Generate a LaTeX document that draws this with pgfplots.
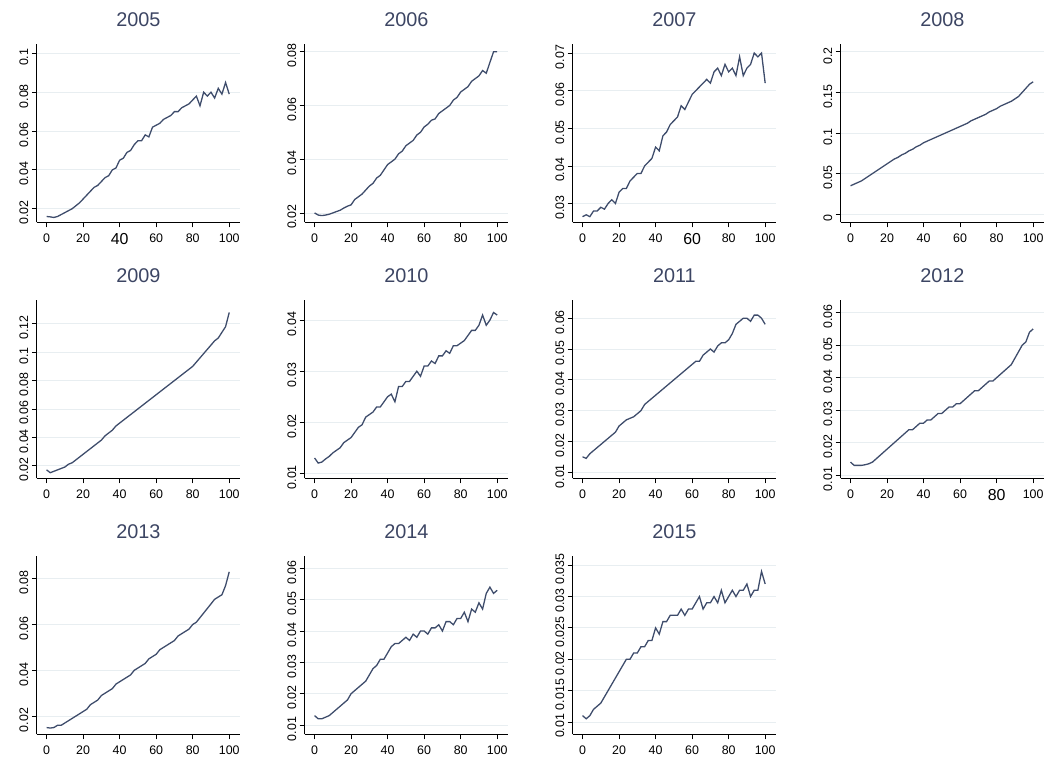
\documentclass[border=0pt]{standalone}
\usepackage{pgfplots}
\pgfplotsset{compat=1.18}
\usepgfplotslibrary{groupplots}
\usepackage{fontspec}
\setmainfont{Liberation Sans}
\definecolor{ln}{HTML}{3E4C6B}
\definecolor{tt}{HTML}{3C4563}
\definecolor{gr}{HTML}{E8EEF1}
\pgfplotsset{
 panel/.style={scale only axis, width=205pt, height=180pt,
  axis x line=bottom, axis y line=left, axis line style={-, black, line width=0.8pt},
  xmin=-5.4, xmax=106, xtick={0,20,40,60,80,100},
  tick align=outside, major tick length=5pt, tick style={black, line width=0.8pt},
  ymajorgrids, grid style={gr, line width=0.8pt},
  every tick label/.append style={font=\fontsize{12.5}{14}\selectfont},
  yticklabel style={rotate=90, anchor=south, xshift=-4pt},
  xticklabel style={yshift=-3pt},
  /pgf/number format/assume math mode=true,
  /pgf/number format/fixed, /pgf/number format/precision=3,
  scaled y ticks=false,
  title style={font=\fontsize{20}{22}\selectfont, text=tt, yshift=8pt},
  every axis plot post/.append style={ln, line width=1.3pt, mark=none}}
}
\newcommand{\bignum}[1]{{\fontsize{16}{16}\selectfont #1}}
\begin{document}
\begin{tikzpicture}
\begin{groupplot}[group style={group size=4 by 3, horizontal sep=65pt, vertical sep=78pt}, panel]
\nextgroupplot[title=2005, ymin=0.013, ymax=0.105, ytick={0.02,0.04,0.06,0.08,0.1}, xticklabels={0,20,\bignum{40},60,80,100}]
\addplot coordinates {(0,.016)(2,.0158)(4,.0155)(6,.016)(8,.017)(10,.018)(12,.019)(14,.020)(16,.0215)(18,.023)(20,.025)(22,.027)(24,.029)(26,.031)(28,.032)(30,.034)(32,.036)(34,.037)(36,.040)(38,.041)(40,.045)(42,.046)(44,.049)(46,.050)(48,.053)(50,.055)(52,.055)(54,.058)(56,.057)(58,.062)(60,.063)(62,.064)(64,.066)(66,.067)(68,.068)(70,.070)(72,.070)(74,.072)(76,.073)(78,.074)(80,.076)(82,.078)(84,.073)(86,.080)(88,.078)(90,.080)(92,.077)(94,.082)(96,.079)(98,.085)(100,.079)};
\nextgroupplot[title=2006, ymin=0.0165, ymax=0.083, ytick={0.02,0.04,0.06,0.08}]
\addplot coordinates {(0,.020)(2,.0192)(4,.0190)(6,.0192)(8,.0195)(10,.020)(12,.0205)(14,.021)(16,.0218)(18,.0225)(20,.023)(22,.025)(24,.026)(26,.027)(28,.0285)(30,.030)(32,.031)(34,.033)(36,.034)(38,.036)(40,.038)(42,.039)(44,.040)(46,.042)(48,.043)(50,.045)(52,.046)(54,.047)(56,.049)(58,.050)(60,.052)(62,.053)(64,.0545)(66,.055)(68,.057)(70,.058)(72,.059)(74,.060)(76,.062)(78,.063)(80,.065)(82,.066)(84,.067)(86,.069)(88,.070)(90,.071)(92,.073)(94,.072)(96,.076)(98,.080)(100,.080)};
\nextgroupplot[title=2007, ymin=0.025, ymax=0.0725, ytick={0.03,0.04,0.05,0.06,0.07}, xticklabels={0,20,40,\bignum{60},80,100}]
\addplot coordinates {(0,.0265)(2,.027)(4,.0265)(6,.028)(8,.028)(10,.029)(12,.0285)(14,.030)(16,.031)(18,.030)(20,.033)(22,.034)(24,.034)(26,.036)(28,.037)(30,.038)(32,.038)(34,.040)(36,.041)(38,.042)(40,.045)(42,.044)(44,.048)(46,.049)(48,.051)(50,.052)(52,.053)(54,.056)(56,.055)(58,.057)(60,.059)(62,.060)(64,.061)(66,.062)(68,.063)(70,.062)(72,.065)(74,.066)(76,.064)(78,.067)(80,.065)(82,.066)(84,.064)(86,.069)(88,.064)(90,.066)(92,.067)(94,.070)(96,.069)(98,.070)(100,.062)};
\nextgroupplot[title=2008, ymin=-0.01, ymax=0.21, ytick={0,0.05,0.1,0.15,0.2}]
\addplot coordinates {(0,.035)(2,.037)(4,.039)(6,.041)(8,.044)(10,.047)(12,.050)(14,.053)(16,.056)(18,.059)(20,.062)(22,.065)(24,.068)(26,.070)(28,.073)(30,.075)(32,.078)(34,.080)(36,.083)(38,.085)(40,.088)(42,.090)(44,.092)(46,.094)(48,.096)(50,.098)(52,.100)(54,.102)(56,.104)(58,.106)(60,.108)(62,.110)(64,.112)(66,.115)(68,.117)(70,.119)(72,.121)(74,.123)(76,.126)(78,.128)(80,.130)(82,.133)(84,.135)(86,.137)(88,.139)(90,.142)(92,.145)(94,.150)(96,.155)(98,.160)(100,.163)};
\nextgroupplot[title=2009, ymin=0.011, ymax=0.137, ytick={0.02,0.04,0.06,0.08,0.1,0.12}]
\addplot coordinates {(0,.017)(2,.015)(4,.016)(6,.017)(8,.018)(10,.019)(12,.021)(14,.022)(16,.024)(18,.026)(20,.028)(22,.030)(24,.032)(26,.034)(28,.036)(30,.038)(32,.041)(34,.043)(36,.045)(38,.048)(40,.050)(42,.052)(44,.054)(46,.056)(48,.058)(50,.060)(52,.062)(54,.064)(56,.066)(58,.068)(60,.070)(62,.072)(64,.074)(66,.076)(68,.078)(70,.080)(72,.082)(74,.084)(76,.086)(78,.088)(80,.090)(82,.093)(84,.096)(86,.099)(88,.102)(90,.105)(92,.108)(94,.110)(96,.114)(98,.118)(100,.128)};
\nextgroupplot[title=2010, ymin=0.009, ymax=0.044, ytick={0.01,0.02,0.03,0.04}]
\addplot coordinates {(0,.013)(2,.012)(4,.0122)(6,.0128)(8,.0133)(10,.014)(12,.0145)(14,.015)(16,.016)(18,.0165)(20,.017)(22,.018)(24,.019)(26,.0195)(28,.021)(30,.0215)(32,.022)(34,.023)(36,.023)(38,.024)(40,.025)(42,.0255)(44,.024)(46,.027)(48,.027)(50,.028)(52,.028)(54,.029)(56,.030)(58,.029)(60,.031)(62,.031)(64,.032)(66,.0315)(68,.033)(70,.033)(72,.034)(74,.0335)(76,.035)(78,.035)(80,.0355)(82,.036)(84,.037)(86,.038)(88,.038)(90,.039)(92,.041)(94,.039)(96,.040)(98,.0415)(100,.041)};
\nextgroupplot[title=2011, ymin=0.008, ymax=0.066, ytick={0.01,0.02,0.03,0.04,0.05,0.06}]
\addplot coordinates {(0,.015)(2,.0145)(4,.016)(6,.017)(8,.018)(10,.019)(12,.020)(14,.021)(16,.022)(18,.023)(20,.025)(22,.026)(24,.027)(26,.0275)(28,.028)(30,.029)(32,.030)(34,.032)(36,.033)(38,.034)(40,.035)(42,.036)(44,.037)(46,.038)(48,.039)(50,.040)(52,.041)(54,.042)(56,.043)(58,.044)(60,.045)(62,.046)(64,.046)(66,.048)(68,.049)(70,.050)(72,.049)(74,.051)(76,.052)(78,.052)(80,.053)(82,.055)(84,.058)(86,.059)(88,.060)(90,.060)(92,.059)(94,.061)(96,.061)(98,.060)(100,.058)};
\nextgroupplot[title=2012, ymin=0.009, ymax=0.064, ytick={0.01,0.02,0.03,0.04,0.05,0.06}, xticklabels={0,20,40,60,\bignum{80},100}]
\addplot coordinates {(0,.014)(2,.013)(4,.013)(6,.013)(8,.0132)(10,.0135)(12,.014)(14,.015)(16,.016)(18,.017)(20,.018)(22,.019)(24,.020)(26,.021)(28,.022)(30,.023)(32,.024)(34,.024)(36,.025)(38,.026)(40,.026)(42,.027)(44,.027)(46,.028)(48,.029)(50,.029)(52,.030)(54,.031)(56,.031)(58,.032)(60,.032)(62,.033)(64,.034)(66,.035)(68,.036)(70,.036)(72,.037)(74,.038)(76,.039)(78,.039)(80,.040)(82,.041)(84,.042)(86,.043)(88,.044)(90,.046)(92,.048)(94,.050)(96,.051)(98,.054)(100,.055)};
\nextgroupplot[title=2013, ymin=0.012, ymax=0.09, ytick={0.02,0.04,0.06,0.08}]
\addplot coordinates {(0,.015)(2,.0148)(4,.015)(6,.016)(8,.016)(10,.017)(12,.018)(14,.019)(16,.020)(18,.021)(20,.022)(22,.023)(24,.025)(26,.026)(28,.027)(30,.029)(32,.030)(34,.031)(36,.032)(38,.034)(40,.035)(42,.036)(44,.037)(46,.038)(48,.040)(50,.041)(52,.042)(54,.043)(56,.045)(58,.046)(60,.047)(62,.049)(64,.050)(66,.051)(68,.052)(70,.053)(72,.055)(74,.056)(76,.057)(78,.058)(80,.060)(82,.061)(84,.063)(86,.065)(88,.067)(90,.069)(92,.071)(94,.072)(96,.073)(98,.077)(100,.083)};
\nextgroupplot[title=2014, ymin=0.007, ymax=0.064, ytick={0.01,0.02,0.03,0.04,0.05,0.06}]
\addplot coordinates {(0,.013)(2,.012)(4,.012)(6,.0125)(8,.013)(10,.014)(12,.015)(14,.016)(16,.017)(18,.018)(20,.020)(22,.021)(24,.022)(26,.023)(28,.024)(30,.026)(32,.028)(34,.029)(36,.031)(38,.031)(40,.033)(42,.035)(44,.036)(46,.036)(48,.037)(50,.038)(52,.037)(54,.039)(56,.038)(58,.040)(60,.040)(62,.039)(64,.041)(66,.041)(68,.042)(70,.040)(72,.043)(74,.043)(76,.042)(78,.044)(80,.044)(82,.046)(84,.043)(86,.047)(88,.046)(90,.049)(92,.047)(94,.052)(96,.054)(98,.052)(100,.053)};
\nextgroupplot[title=2015, ymin=0.008, ymax=0.0365, ytick={0.01,0.015,0.02,0.025,0.03,0.035}]
\addplot coordinates {(0,.011)(2,.0105)(4,.011)(6,.012)(8,.0125)(10,.013)(12,.014)(14,.015)(16,.016)(18,.017)(20,.018)(22,.019)(24,.020)(26,.020)(28,.021)(30,.021)(32,.022)(34,.022)(36,.023)(38,.023)(40,.025)(42,.024)(44,.026)(46,.026)(48,.027)(50,.027)(52,.027)(54,.028)(56,.027)(58,.028)(60,.028)(62,.029)(64,.030)(66,.028)(68,.029)(70,.029)(72,.030)(74,.029)(76,.031)(78,.029)(80,.030)(82,.031)(84,.030)(86,.031)(88,.031)(90,.032)(92,.030)(94,.031)(96,.031)(98,.034)(100,.032)};
\end{groupplot}
\path ([xshift=-37pt,yshift=44pt]group c1r1.north west) -- ([xshift=14pt]group c4r1.east);
\end{tikzpicture}
\end{document}
